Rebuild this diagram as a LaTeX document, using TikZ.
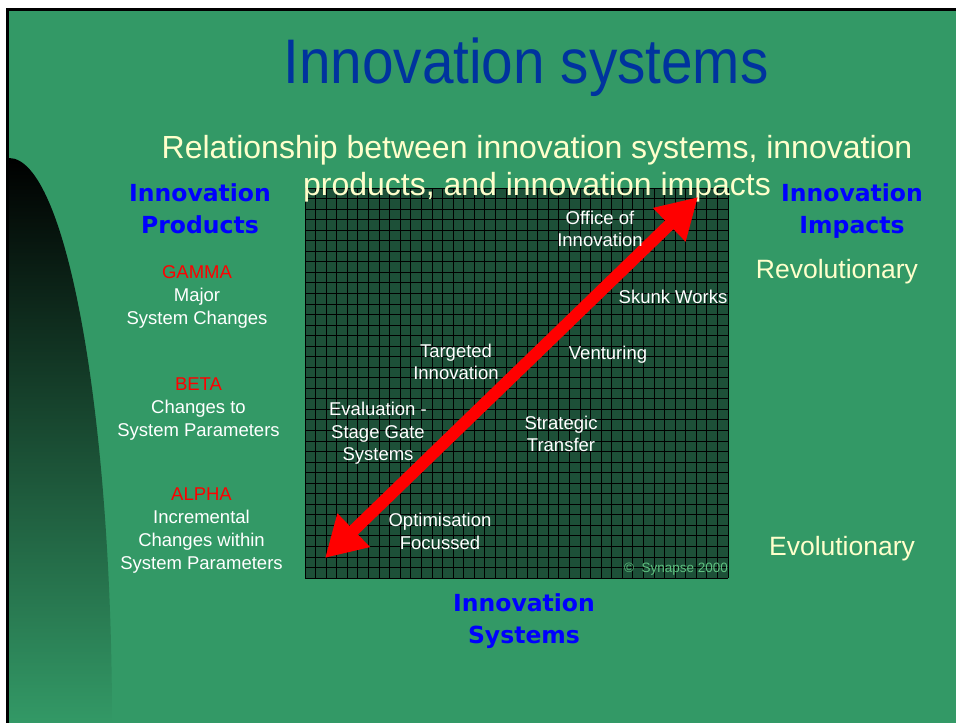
\documentclass[tikz,border=0pt]{standalone}
\usepackage{fontspec}
\setmainfont{Liberation Sans}
\newfontfamily\titlefont[FakeStretch=0.9]{Liberation Sans}
\newfontfamily\verdfont{DejaVu Sans}
\usetikzlibrary{arrows.meta}
\definecolor{slidegreen}{HTML}{339966}
\definecolor{griddark}{HTML}{1D5038}
\definecolor{titleblue}{HTML}{00339E}
\definecolor{cream}{HTML}{FFFFCC}
\definecolor{copygreen}{HTML}{5FC080}
\begin{document}
\begin{tikzpicture}[x=1pt,y=-1pt,
  txt/.style={inner sep=0pt, anchor=base, align=center, text=white,
    font=\fontsize{18.5}{22.5}\selectfont},
  sidelab/.style={inner sep=0pt, anchor=base, align=center, text=white,
    font=\fontsize{18.5}{23}\selectfont},
  headlab/.style={inner sep=0pt, anchor=base, align=center, text=blue,
    font=\verdfont\bfseries\fontsize{23.5}{32}\selectfont},
  impactlab/.style={inner sep=0pt, anchor=base, text=cream,
    font=\fontsize{26.5}{30}\selectfont},
  gridline/.style={black, line width=0.8pt},
  bigarrow/.style={red, line width=12pt,
    {Triangle[length=40pt,width=44pt]}-{Triangle[length=40pt,width=44pt]}}
]
\useasboundingbox (0,0) rectangle (956,723);
\fill[white] (0,0) rectangle (956,723);
\fill[slidegreen] (6,8) rectangle (956,723);
\draw[black, line width=3pt] (7.5,723) -- (7.5,9.5) -- (956,9.5);
% left dark curve
\shade[top color=black, bottom color=slidegreen]
  (9,723) -- (9,158) arc[start angle=-90, end angle=0, x radius=103, y radius=565] -- cycle;
% grid
\fill[griddark] (305,188) rectangle (728,578);
\foreach \i in {0,...,40} \draw[gridline] ({305+\i*10.575},188) -- ({305+\i*10.575},578);
\foreach \j in {0,...,37} \draw[gridline] (305,{188+\j*10.54}) -- (728,{188+\j*10.54});
% title
\node[inner sep=0pt, anchor=base, text=titleblue, font=\titlefont\fontsize{63}{70}\selectfont] (title) at (526,83) {Innovation systems};
\node[inner sep=0pt, anchor=base, align=center, text=cream, font=\fontsize{32}{37}\selectfont] (subtitle) at (537,195) {Relationship between innovation systems, innovation\\products, and innovation impacts};
% headers
\node[headlab] (prod) at (200,233) {Innovation\\Products};
\node[headlab] (impact) at (852,233) {Innovation\\Impacts};
\node[headlab] (sys) at (524,643) {Innovation\\Systems};
% left labels
\node[sidelab] (gamma) at (197,324) {\textcolor{red}{GAMMA}\\Major\\System Changes};
\node[sidelab] (beta) at (198.5,436) {\textcolor{red}{BETA}\\Changes to\\System Parameters};
\node[sidelab] (alpha) at (201.5,569) {\textcolor{red}{ALPHA}\\Incremental\\Changes within\\System Parameters};
% right labels
\node[impactlab] (rev) at (837,278) {Revolutionary};
\node[impactlab] (evo) at (842,555) {Evolutionary};
% arrow
\coordinate (lo) at (325,558);
\coordinate (hi) at (698,197);
\draw[bigarrow] (lo) -- (hi);
% grid labels
\node[txt] (office) at (600,246.5) {Office of\\Innovation};
\node[txt] (skunk) at (673,303.5) {Skunk Works};
\node[txt] (target) at (456,379.5) {Targeted\\Innovation};
\node[txt] (vent) at (608,359.5) {Venturing};
\node[txt] (eval) at (378,460.5) {Evaluation -\\Stage Gate\\Systems};
\node[txt] (strat) at (561,451.5) {Strategic\\Transfer};
\node[txt] (optim) at (440,549) {Optimisation\\Focussed};
\node[inner sep=0pt, anchor=base, text=copygreen, font=\fontsize{13.5}{16}\selectfont] (copy) at (676,572) {\textcopyright\ \ Synapse 2000};
\end{tikzpicture}
\end{document}
